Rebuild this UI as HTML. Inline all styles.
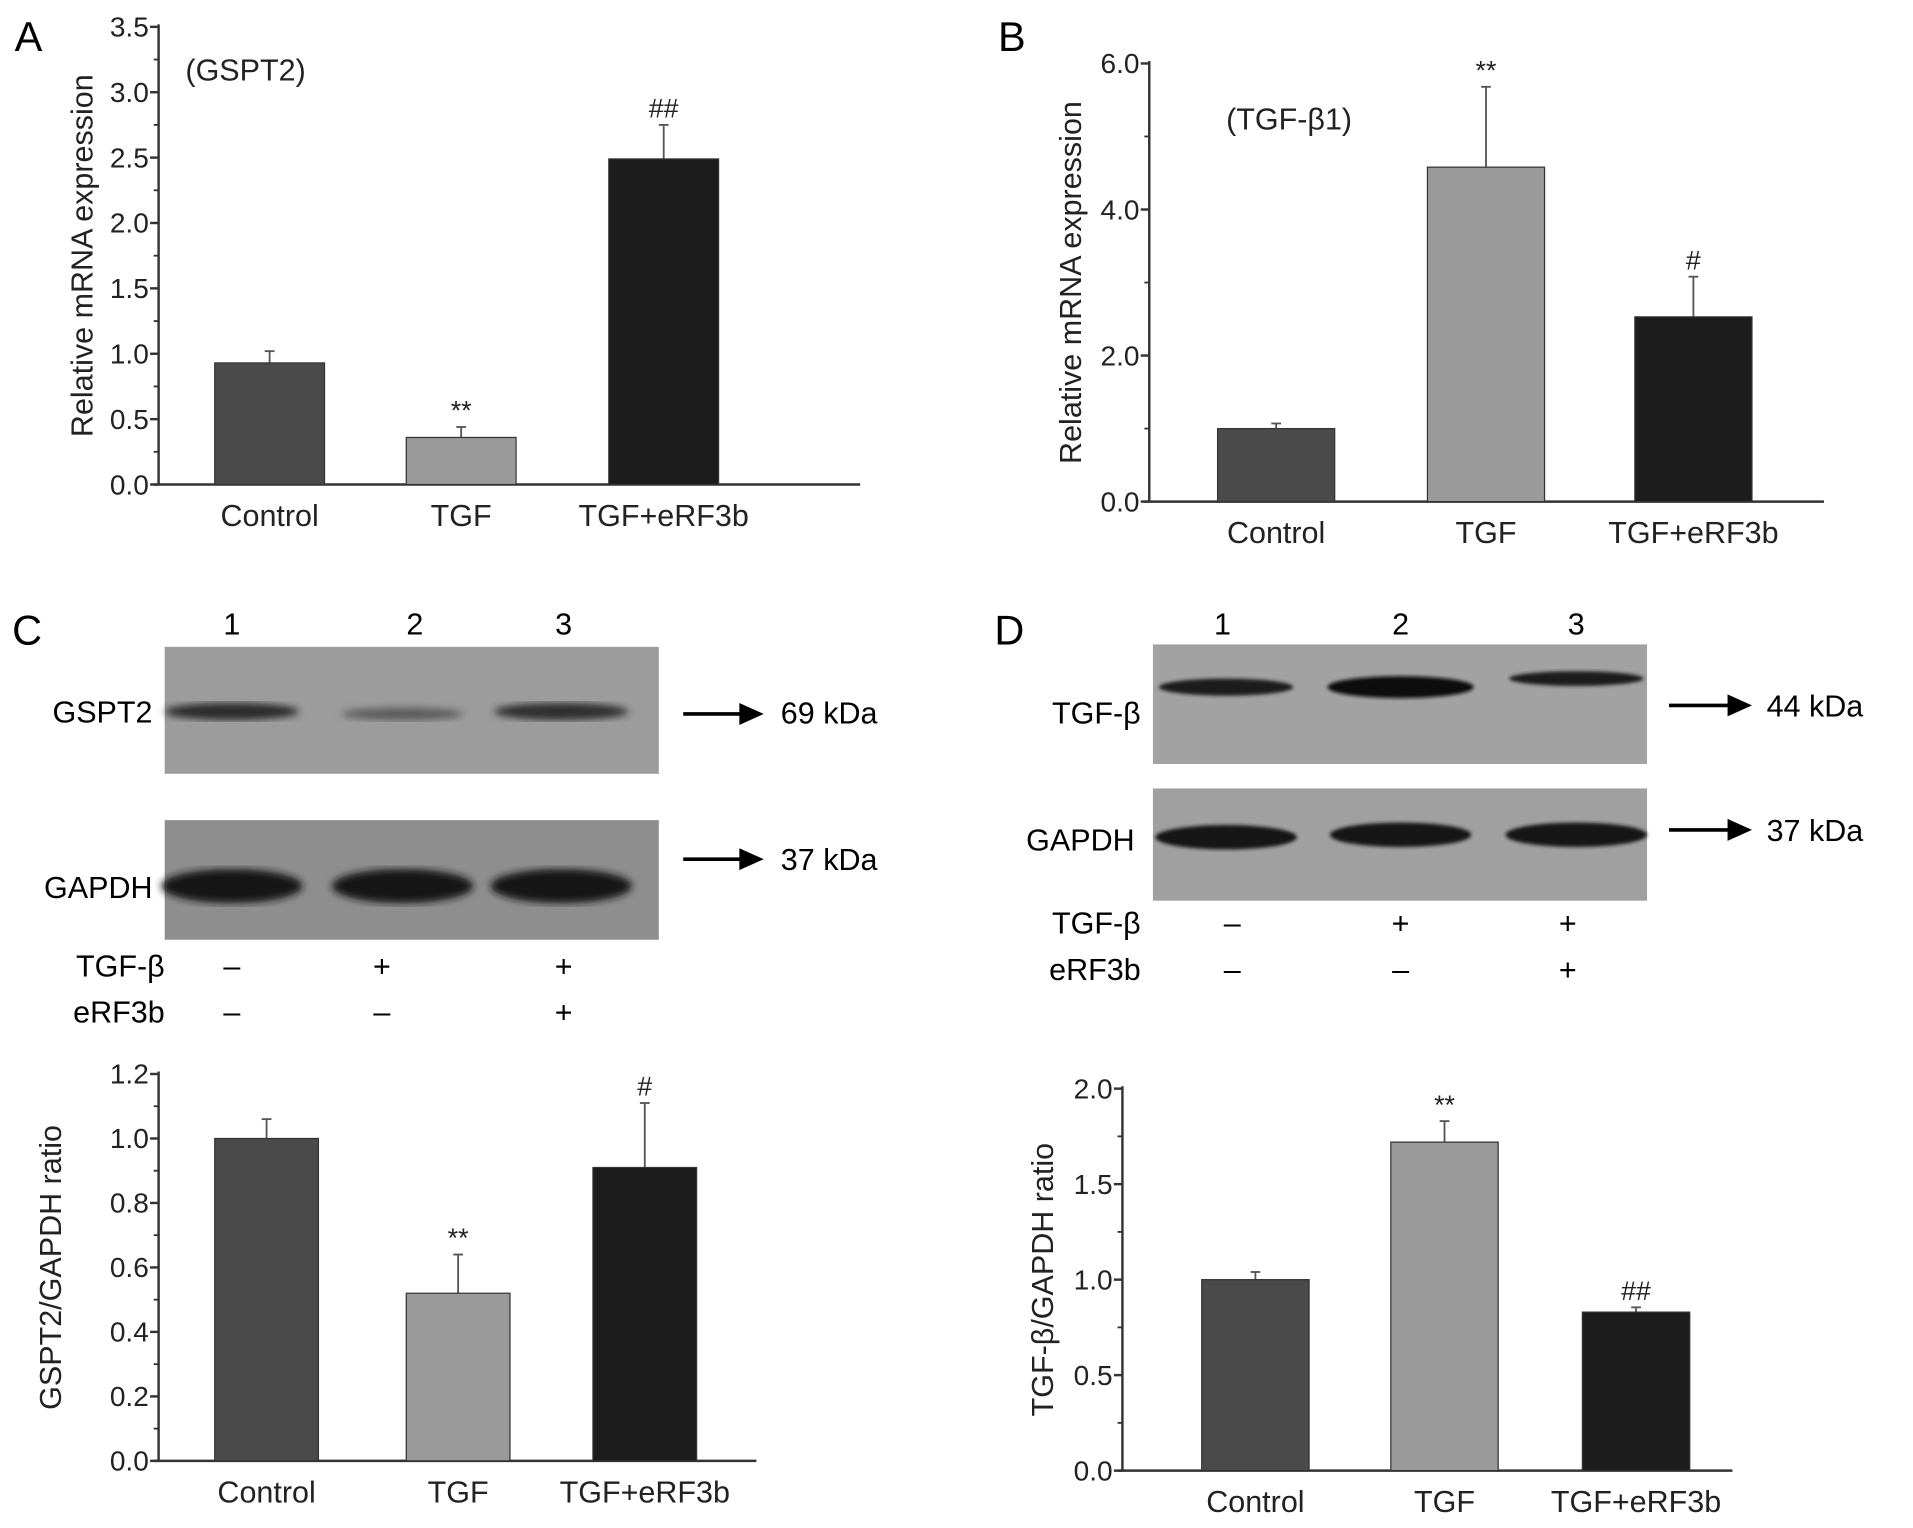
<!DOCTYPE html>
<html><head><meta charset="utf-8"><style>
html,body{margin:0;padding:0;background:#fff;}
svg{display:block;font-family:"Liberation Sans",sans-serif;}
</style></head><body>
<svg id="fig" width="1913" height="1528" viewBox="0 0 1568 1252" preserveAspectRatio="none">
<defs>
<filter id="blur2"><feGaussianBlur stdDeviation="3"/></filter>
<filter id="blur1"><feGaussianBlur stdDeviation="1.5"/></filter>
</defs>
<g id="charts"></g>
<text x="12" y="42" font-size="34">A</text>
<text x="818" y="42" font-size="34">B</text>
<text x="10" y="528" font-size="34">C</text>
<text x="815" y="528" font-size="34">D</text>

<g font-size="25">
<text x="190" y="520" text-anchor="middle">1</text><text x="340" y="520" text-anchor="middle">2</text><text x="462" y="520" text-anchor="middle">3</text>
<rect x="135" y="530" width="405" height="104" fill="#9c9c9c"/>
<g filter="url(#blur2)">
<ellipse cx="190" cy="583" rx="55" ry="7" fill="#2a2a2a"/>
<ellipse cx="330" cy="585" rx="50" ry="5" fill="#5a5a5a"/>
<ellipse cx="460" cy="583" rx="55" ry="7" fill="#2e2e2e"/>
</g>
<text x="125" y="592" text-anchor="end">GSPT2</text>
<rect x="135" y="672" width="405" height="98" fill="#8e8e8e"/>
<g filter="url(#blur2)">
<ellipse cx="190" cy="726" rx="58" ry="14" fill="#151515"/>
<ellipse cx="330" cy="726" rx="58" ry="14" fill="#151515"/>
<ellipse cx="460" cy="726" rx="58" ry="14" fill="#151515"/>
</g>
<text x="125" y="736" text-anchor="end">GAPDH</text>
<line x1="560" y1="585" x2="608" y2="585" stroke="#000" stroke-width="3"/><polygon points="606,576 626,585 606,594"/>
<text x="640" y="593">69 kDa</text>
<line x1="560" y1="704" x2="608" y2="704" stroke="#000" stroke-width="3"/><polygon points="606,695 626,704 606,713"/>
<text x="640" y="713">37 kDa</text>
<text x="135" y="800" text-anchor="end">TGF-β</text><text x="135" y="838" text-anchor="end">eRF3b</text>
<text x="190" y="800" text-anchor="middle">–</text><text x="313" y="800" text-anchor="middle">+</text><text x="462" y="800" text-anchor="middle">+</text>
<text x="190" y="838" text-anchor="middle">–</text><text x="313" y="838" text-anchor="middle">–</text><text x="462" y="838" text-anchor="middle">+</text>
</g>

<g font-size="25">
<text x="1002" y="520" text-anchor="middle">1</text><text x="1148" y="520" text-anchor="middle">2</text><text x="1292" y="520" text-anchor="middle">3</text>
<rect x="945" y="528" width="405" height="98" fill="#a2a2a2"/>
<g filter="url(#blur1)">
<ellipse cx="1005" cy="563" rx="55" ry="7" fill="#1a1a1a"/>
<ellipse cx="1148" cy="563" rx="60" ry="9" fill="#111"/>
<ellipse cx="1292" cy="556" rx="55" ry="6" fill="#1a1a1a"/>
</g>
<text x="935" y="593" text-anchor="end">TGF-β</text>
<rect x="945" y="646" width="405" height="92" fill="#a0a0a0"/>
<g filter="url(#blur1)">
<ellipse cx="1005" cy="686" rx="58" ry="10" fill="#151515"/>
<ellipse cx="1148" cy="684" rx="58" ry="10" fill="#151515"/>
<ellipse cx="1292" cy="684" rx="58" ry="10" fill="#151515"/>
</g>
<text x="930" y="697" text-anchor="end">GAPDH</text>
<line x1="1368" y1="578" x2="1418" y2="578" stroke="#000" stroke-width="3"/><polygon points="1416,569 1436,578 1416,587"/>
<text x="1448" y="587">44 kDa</text>
<line x1="1368" y1="680" x2="1418" y2="680" stroke="#000" stroke-width="3"/><polygon points="1416,671 1436,680 1416,689"/>
<text x="1448" y="689">37 kDa</text>
<text x="935" y="765" text-anchor="end">TGF-β</text><text x="935" y="803" text-anchor="end">eRF3b</text>
<text x="1010" y="765" text-anchor="middle">–</text><text x="1148" y="765" text-anchor="middle">+</text><text x="1285" y="765" text-anchor="middle">+</text>
<text x="1010" y="803" text-anchor="middle">–</text><text x="1148" y="803" text-anchor="middle">–</text><text x="1285" y="803" text-anchor="middle">+</text>
</g>
</svg>
<script>
const categories = ["Control", "TGF", "TGF+eRF3b"];
const valuesA = [0.93, 0.36, 2.49];
const errA = [0.09, 0.08, 0.26];
const sigA = ["", "**", "##"];
const ticksA = ["0.0","0.5","1.0","1.5","2.0","2.5","3.0","3.5"];
const valuesB = [1.0, 4.58, 2.53];
const errB = [0.07, 1.1, 0.55];
const sigB = ["", "**", "#"];
const ticksB = ["0.0","2.0","4.0","6.0"];
const valuesC = [1.0, 0.52, 0.91];
const errC = [0.06, 0.12, 0.2];
const sigC = ["", "**", "#"];
const ticksC = ["0.0","0.2","0.4","0.6","0.8","1.0","1.2"];
const valuesD = [1.0, 1.72, 0.83];
const errD = [0.04, 0.11, 0.025];
const sigD = ["", "**", "##"];
const ticksD = ["0.0","0.5","1.0","1.5","2.0"];
const colors = ["#4a4a4a", "#9a9a9a", "#1c1c1c"];
const NS = "http://www.w3.org/2000/svg";
const root = document.getElementById("charts");
function mk(tag, attrs, parent){const e=document.createElementNS(NS,tag);for(const k in attrs)e.setAttribute(k,attrs[k]);parent.appendChild(e);return e;}
function chart(cfg){
  const g = mk("g",{},root);
  
  
  const max = parseFloat(cfg.ticks[cfg.ticks.length-1]);
  const y = v => cfg.y0 - (v/max)*(cfg.y0-cfg.yTop);
  const x = i => cfg.barX[i];
  const ax = mk("line",{x1:cfg.x0,y1:cfg.yTop-2,x2:cfg.x0,y2:cfg.y0,stroke:"#333","stroke-width":2},g);
  
  
  const bx = mk("line",{x1:cfg.x0-4,y1:cfg.y0,x2:cfg.xEnd,y2:cfg.y0,stroke:"#333","stroke-width":2},g);
  
  
  const n = cfg.ticks.length;
  for(let i=0;i<n;i++){
    const v=parseFloat(cfg.ticks[i]);const yy=y(v);
    mk("line",{x1:cfg.x0-7,y1:yy,x2:cfg.x0,y2:yy,stroke:"#333","stroke-width":2},g);
    const t=mk("text",{x:cfg.x0-8,y:yy+8,"text-anchor":"end","font-size":23,fill:"#222"},g);
    t.textContent=cfg.ticks[i];
    
    
    if(i<n-1){const v2=parseFloat(cfg.ticks[i+1]);const ym=y((v+v2)/2);
      mk("line",{x1:cfg.x0-4,y1:ym,x2:cfg.x0,y2:ym,stroke:"#333","stroke-width":1.5},g);}
  }
  const yl=mk("text",{x:0,y:0,"text-anchor":"middle","font-size":25,fill:"#222",transform:`translate(${cfg.ylx},${(cfg.y0+cfg.yTop)/2}) rotate(-90)`},g);
  yl.textContent=cfg.ylabel;
  
  
  for(let i=0;i<categories.length;i++){
    const v=cfg.vals[i], e=cfg.err[i], cx=x(i)+cfg.bw/2;
    mk("line",{x1:cx,y1:y(v),x2:cx,y2:y(v+e),stroke:"#555","stroke-width":1.5},g);
    mk("line",{x1:cx-4,y1:y(v+e),x2:cx+4,y2:y(v+e),stroke:"#555","stroke-width":1.5},g);
    const b=mk("rect",{x:x(i),y:y(v),width:cfg.bw,height:cfg.y0-y(v),fill:colors[i],stroke:"#333","stroke-width":1},g);
    
    
    if(cfg.sig[i]){const s=mk("text",{x:cx,y:y(v+e)-6,"text-anchor":"middle","font-size":22,fill:"#222"},g);s.textContent=cfg.sig[i];
      
      }
    const l=mk("text",{x:cx,y:cfg.y0+34,"text-anchor":"middle","font-size":25,fill:"#222"},g);
    l.textContent=categories[i];
    
    
  }
  if(cfg.title){const t=mk("text",{x:cfg.tx,y:cfg.ty,"font-size":25,fill:"#222"},g);t.textContent=cfg.title;
    
    }
}
chart({name:"chart-a",x0:130,xEnd:705,yTop:22,y0:397,ticks:ticksA,vals:valuesA,err:errA,sig:sigA,barX:[176,333,499],bw:90,ylabel:"Relative mRNA expression",ylx:76,title:"(GSPT2)",tx:152,ty:66});
chart({name:"chart-b",x0:942,xEnd:1495,yTop:52,y0:411,ticks:ticksB,vals:valuesB,err:errB,sig:sigB,barX:[998,1170,1340],bw:96,ylabel:"Relative mRNA expression",ylx:886,title:"(TGF-β1)",tx:1005,ty:106});
chart({name:"chart-c",x0:130,xEnd:620,yTop:880,y0:1197,ticks:ticksC,vals:valuesC,err:errC,sig:sigC,barX:[176,333,486],bw:85,ylabel:"GSPT2/GAPDH ratio",ylx:50,title:"",tx:0,ty:0});
chart({name:"chart-d",x0:920,xEnd:1420,yTop:892,y0:1205,ticks:ticksD,vals:valuesD,err:errD,sig:sigD,barX:[985,1140,1297],bw:88,ylabel:"TGF-β/GAPDH ratio",ylx:863,title:"",tx:0,ty:0});
</script>
</body></html>
